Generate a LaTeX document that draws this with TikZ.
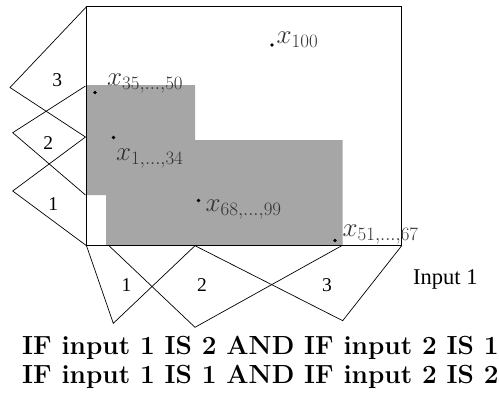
\RequirePackage{fix-cm}
\documentclass[tikz,border=0pt]{standalone}
\usepackage{fontspec}
\newfontfamily\timesfont{Liberation Serif}
\definecolor{rulegray}{RGB}{166,166,166}
\tikzset{
  frame/.style={draw=black, line width=0.8pt, line join=miter},
  memb/.style={draw=black, line width=0.7pt, line join=miter},
  dotpt/.style={circle, fill=black, inner sep=0pt, minimum size=3.6pt},
  xlab/.style={anchor=base west, inner sep=0pt, text=black!80, font=\fontsize{27}{32}\selectfont},
  numlab/.style={inner sep=0pt, font=\timesfont\fontsize{19.5}{23}\selectfont},
  axlab/.style={anchor=base west, inner sep=0pt, font=\timesfont\fontsize{22.5}{27}\selectfont},
  rulelab/.style={anchor=base west, inner sep=0pt, font=\fontsize{26.2}{30}\selectfont\bfseries}
}
\begin{document}
\begin{tikzpicture}[x=1pt,y=-1pt]
\useasboundingbox (0,0) rectangle (499,392);
% covered region
\fill[rulegray] (86.5,85) -- (195,85) -- (195,140) -- (342.7,140) -- (342.7,245.7)
  -- (106,245.7) -- (106,195) -- (86.5,195) -- cycle;
% main frame
\coordinate (tl) at (86.5,6.7);
\coordinate (tr) at (401.7,6.7);
\coordinate (br) at (401.7,245.7);
\coordinate (bl) at (86.5,245.7);
\draw[frame] (tl) -- (tr) -- (br) -- (bl) -- cycle;
% input 2 membership functions (left)
\coordinate (a3t) at (86.5,6.7);  \coordinate (a3p) at (10,87.5);   \coordinate (a3b) at (85.5,137);
\coordinate (a2t) at (85.5,86);   \coordinate (a2p) at (12.7,132.7); \coordinate (a2b) at (85.5,195);
\coordinate (a1t) at (85.5,137);  \coordinate (a1p) at (12.7,191);   \coordinate (a1b) at (86.5,245.7);
\draw[memb] (a3t) -- (a3p) -- (a3b);
\draw[memb] (a2t) -- (a2p) -- (a2b);
\draw[memb] (a1t) -- (a1p) -- (a1b);
\node[numlab] (l3) at (57.3,80) {3};
\node[numlab] (l2) at (48.3,143) {2};
\node[numlab] (l1) at (53.3,204) {1};
% input 1 membership functions (bottom)
\coordinate (b1l) at (86.5,245.7);  \coordinate (b1p) at (113.3,323.3); \coordinate (b1r) at (195,245.7);
\coordinate (b2l) at (109,245.7);   \coordinate (b2p) at (195,327.3);   \coordinate (b2r) at (341.7,245.7);
\coordinate (b3l) at (195,245.7);   \coordinate (b3p) at (342.7,320.7); \coordinate (b3r) at (401.7,245.7);
\draw[memb] (b1l) -- (b1p) -- (b1r);
\draw[memb] (b2l) -- (b2p) -- (b2r);
\draw[memb] (b3l) -- (b3p) -- (b3r);
\node[numlab] (m1) at (126.5,285) {1};
\node[numlab] (m2) at (202,285) {2};
\node[numlab] (m3) at (327,285) {3};
\node[axlab] (in1) at (413,284) {Input 1};
% data points
\node[dotpt] (p100) at (272,45) {};
\node[xlab] (t100) at (276.5,43) {$x_{100}$};
\node[dotpt] (p35) at (95,92.5) {};
\node[xlab] (t35) at (107,85) {$x_{35,\ldots,50}$};
\node[dotpt] (p1) at (113.5,137.5) {};
\node[xlab] (t1) at (116,160) {$x_{1,\ldots,34}$};
\node[dotpt] (p68) at (198.5,200.5) {};
\node[xlab] (t68) at (205.5,211) {$x_{68,\ldots,99}$};
\node[dotpt] (p51) at (335,240.5) {};
\node[xlab] (t51) at (342.5,236.5) {$x_{51,\ldots,67}$};
% rules
\node[rulelab] (r1) at (22,354) {IF input 1 IS 2 AND IF input 2 IS 1};
\node[rulelab] (r2) at (22,383) {IF input 1 IS 1 AND IF input 2 IS 2};
\end{tikzpicture}
\end{document}
